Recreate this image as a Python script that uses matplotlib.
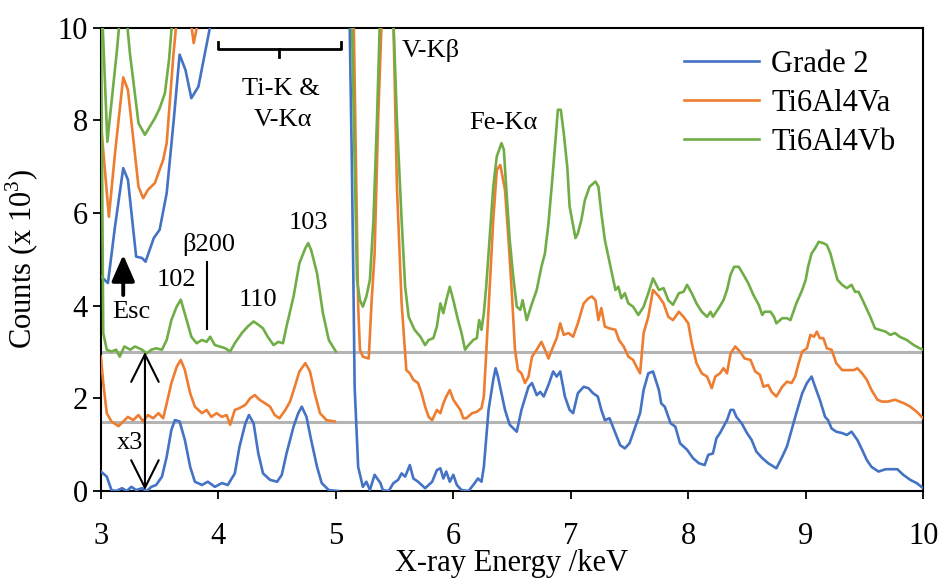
import matplotlib
matplotlib.use("Agg")
import matplotlib.pyplot as plt

plt.rcParams["font.family"] = ["Liberation Serif", "DejaVu Serif"]
plt.rcParams["mathtext.fontset"] = "custom"
plt.rcParams["mathtext.rm"] = "Liberation Serif"

# EDS spectra, 3-10 keV. Curves already carry their vertical offsets
# (Ti6Al4Va +1.5, Ti6Al4Vb +3); values above 10 run off the top.
G2_X = [3.00, 3.06, 3.12, 3.19, 3.23, 3.30, 3.35, 3.38, 3.45, 3.50, 3.56, 3.62, 3.67, 3.72, 3.77, 3.83, 3.93, 4.00, 4.50,
        5.05, 5.115, 5.135, 5.15, 5.16, 5.19, 5.23, 5.26, 5.29, 5.33, 5.38, 5.40, 5.45, 5.49, 5.53, 5.56, 5.59, 5.63,
        5.66, 5.70, 5.76, 5.82, 5.86, 5.89, 5.915, 5.94, 5.97, 6.00, 6.03, 6.07, 6.13, 6.17, 6.21, 6.24, 6.26, 6.30,
        6.34, 6.36, 6.38, 6.44, 6.48, 6.54, 6.58, 6.64, 6.67, 6.71, 6.74, 6.77, 6.81, 6.85, 6.88, 6.91, 6.95, 6.99,
        7.02, 7.06, 7.11, 7.15, 7.19, 7.23, 7.26, 7.29, 7.33, 7.38, 7.42, 7.46, 7.50, 7.55, 7.59, 7.62, 7.66, 7.70,
        7.75, 7.77, 7.80, 7.85, 7.89, 7.93, 7.99, 8.04, 8.09, 8.14, 8.17, 8.21, 8.24, 8.27, 8.30, 8.33, 8.36, 8.385,
        8.41, 8.455, 8.50, 8.54, 8.58, 8.63, 8.68, 8.75, 8.80, 8.84, 8.88, 8.92, 8.97, 9.01, 9.05, 9.08, 9.12, 9.165,
        9.19, 9.22, 9.26, 9.31, 9.35, 9.39, 9.44, 9.48, 9.52, 9.56, 9.62, 9.68, 9.78, 9.83, 9.89, 9.945, 10.0]
G2_Y = [4.63, 4.49, 5.71, 6.97, 6.72, 5.06, 5.03, 4.95, 5.46, 5.64, 6.43, 8.01, 9.42, 9.09, 8.48, 8.73, 10.03, 11.5, 40,
        25, 10.5, 7.29, 4.41, 2.25, 0.52, 0.09, 0.20, 0.02, 0.35, 0.17, 0.02, 0.0, 0.17, 0.24, 0.38, 0.31, 0.56,
        0.27, 0.20, 0.06, 0.20, 0.45, 0.49, 0.27, 0.42, 0.20, 0.35, 0.13, 0.02, 0.0, 0.13, 0.27, 0.20, 0.52, 1.75,
        2.40, 2.65, 2.47, 1.75, 1.43, 1.28, 1.75, 2.25, 2.33, 2.07, 2.14, 2.04, 2.29, 2.58, 2.47, 2.58, 2.04, 1.75,
        1.68, 2.11, 2.25, 2.22, 2.11, 2.04, 1.75, 1.53, 1.57, 1.25, 0.99, 0.92, 1.03, 1.39, 1.68, 2.18, 2.54, 2.58,
        2.18, 1.89, 1.82, 1.46, 1.39, 1.03, 0.89, 0.71, 0.60, 0.56, 0.78, 0.81, 1.14, 1.25, 1.39, 1.53, 1.75, 1.75,
        1.60, 1.46, 1.25, 1.10, 0.85, 0.71, 0.60, 0.49, 0.74, 0.96, 1.32, 1.68, 2.11, 2.33, 2.47, 2.25, 1.97, 1.60,
        1.53, 1.35, 1.28, 1.25, 1.21, 1.28, 1.10, 0.89, 0.67, 0.52, 0.42, 0.47, 0.47, 0.35, 0.24, 0.17, 0.06]

VA_X = [3.00, 3.068, 3.12, 3.19, 3.23, 3.32, 3.36, 3.40, 3.46, 3.53, 3.56, 3.616, 3.645, 3.72, 3.79, 3.83, 3.90, 4.50,
        5.10, 5.15, 5.19, 5.205, 5.23, 5.28, 5.305, 5.33, 5.36, 5.39, 5.44, 5.49, 5.52, 5.56, 5.60, 5.63, 5.66, 5.70,
        5.73, 5.76, 5.79, 5.82, 5.86, 5.89, 5.915, 5.94, 5.97, 6.00, 6.03, 6.06, 6.085, 6.11, 6.16, 6.20, 6.24, 6.26,
        6.28, 6.31, 6.34, 6.37, 6.40, 6.44, 6.47, 6.50, 6.525, 6.55, 6.58, 6.61, 6.64, 6.67, 6.71, 6.75, 6.78, 6.81,
        6.85, 6.88, 6.91, 6.94, 6.98, 7.02, 7.06, 7.11, 7.15, 7.18, 7.21, 7.235, 7.26, 7.29, 7.33, 7.38, 7.41, 7.45,
        7.49, 7.53, 7.56, 7.59, 7.62, 7.66, 7.70, 7.75, 7.79, 7.83, 7.87, 7.92, 7.96, 8.00, 8.03, 8.07, 8.115, 8.16,
        8.20, 8.23, 8.27, 8.30, 8.33, 8.36, 8.40, 8.44, 8.48, 8.53, 8.57, 8.61, 8.64, 8.68, 8.71, 8.75, 8.80, 8.84,
        8.88, 8.91, 8.94, 8.97, 9.01, 9.04, 9.07, 9.095, 9.12, 9.15, 9.18, 9.22, 9.26, 9.31, 9.35, 9.41, 9.44, 9.48,
        9.52, 9.56, 9.61, 9.65, 9.70, 9.76, 9.80, 9.84, 9.89, 9.945, 10.0]
VA_Y = [7.94, 5.92, 7.29, 8.93, 8.66, 6.57, 6.32, 6.50, 6.65, 7.15, 7.51, 9.38, 10.17, 11.0, 9.67, 10.17, 12.0, 45,
        30, 10.5, 4.0, 3.05, 2.90, 2.86, 4.12, 5.13, 8.01, 10.17, 25, 10.17, 6.57, 4.05, 2.61, 2.54, 2.40, 2.33,
        2.11, 1.82, 1.60, 1.53, 1.75, 1.68, 1.89, 2.04, 2.18, 1.97, 1.86, 1.75, 1.57, 1.57, 1.68, 1.71, 1.79, 2.04,
        2.97, 4.41, 5.85, 6.93, 7.04, 6.50, 5.42, 4.20, 3.05, 2.61, 2.54, 2.33, 2.47, 2.90, 3.05, 3.22, 3.05, 2.86,
        3.12, 3.30, 3.62, 3.37, 3.41, 3.33, 3.62, 4.05, 4.16, 4.20, 4.12, 3.69, 3.95, 3.55, 3.51, 3.48, 3.26, 3.12,
        2.90, 2.83, 2.68, 2.54, 3.41, 3.76, 4.34, 4.20, 4.05, 3.76, 3.69, 3.87, 3.76, 3.62, 3.19, 2.76, 2.54, 2.47,
        2.22, 2.47, 2.54, 2.65, 2.54, 2.97, 3.12, 3.01, 2.86, 2.83, 2.58, 2.51, 2.25, 2.29, 2.14, 2.04, 2.25, 2.36,
        2.33, 2.47, 2.76, 3.01, 3.08, 3.37, 3.33, 3.44, 3.30, 3.30, 3.08, 3.05, 2.76, 2.61, 2.61, 2.61, 2.65, 2.54,
        2.40, 2.18, 1.97, 1.93, 1.93, 1.97, 1.93, 1.89, 1.82, 1.71, 1.57]

VB_X = [3.00, 3.055, 3.134, 3.16, 3.19, 3.22, 3.247, 3.32, 3.375, 3.417, 3.46, 3.50, 3.545, 3.58, 3.607, 3.70, 4.50,
        5.05, 5.13, 5.18, 5.205, 5.23, 5.26, 5.29, 5.32, 5.35, 5.375, 5.43, 5.49, 5.52, 5.56, 5.59, 5.62, 5.645,
        5.67, 5.72, 5.76, 5.79, 5.83, 5.86, 5.89, 5.915, 5.94, 5.97, 6.00, 6.04, 6.07, 6.10, 6.13, 6.17, 6.20, 6.22,
        6.24, 6.26, 6.28, 6.31, 6.34, 6.37, 6.41, 6.43, 6.45, 6.48, 6.51, 6.54, 6.57, 6.59, 6.625, 6.67, 6.71, 6.75,
        6.78, 6.81, 6.84, 6.87, 6.89, 6.915, 6.94, 6.97, 6.99, 7.04, 7.06, 7.09, 7.12, 7.16, 7.21, 7.235, 7.26, 7.29,
        7.32, 7.35, 7.38, 7.405, 7.43, 7.46, 7.49, 7.53, 7.575, 7.62, 7.66, 7.70, 7.75, 7.79, 7.83, 7.87, 7.92, 7.96,
        7.99, 8.03, 8.07, 8.115, 8.16, 8.19, 8.21, 8.26, 8.30, 8.33, 8.36, 8.39, 8.43, 8.47, 8.51, 8.555, 8.60, 8.63,
        8.65, 8.70, 8.73, 8.75, 8.80, 8.84, 8.87, 8.90, 8.92, 8.97, 9.00, 9.02, 9.05, 9.08, 9.11, 9.15, 9.18, 9.21,
        9.24, 9.27, 9.31, 9.35, 9.39, 9.42, 9.45, 9.49, 9.55, 9.59, 9.63, 9.68, 9.72, 9.76, 9.80, 9.86, 9.92, 9.97,
        10.0]
VB_Y = [11.0, 7.54, 9.45, 10.17, 10.8, 10.17, 9.45, 7.94, 7.69, 7.87, 8.05, 8.26, 8.59, 9.31, 10.17, 13.0, 50,
        30, 11.0, 4.56, 4.12, 3.98, 4.20, 4.56, 5.85, 8.01, 10.17, 25, 10.17, 8.01, 5.85, 4.41, 3.76, 3.62,
        3.48, 3.33, 3.15, 3.26, 3.30, 3.55, 4.05, 3.84, 4.12, 4.41, 4.12, 3.69, 3.41, 3.05, 3.15, 3.26, 3.30, 3.69,
        3.48, 3.84, 4.41, 5.49, 6.57, 7.22, 7.51, 7.37, 6.57, 5.42, 4.63, 3.98, 3.91, 4.12, 3.69, 4.05, 4.34, 4.84,
        5.13, 5.78, 6.65, 7.58, 8.23, 8.23, 7.73, 7.00, 6.14, 5.46, 5.56, 5.85, 6.28, 6.57, 6.68, 6.57, 6.00, 5.42,
        5.06, 4.70, 4.34, 4.41, 4.16, 4.27, 4.05, 3.98, 3.80, 3.98, 4.27, 4.59, 4.34, 4.38, 4.12, 4.02, 4.27, 4.30,
        4.45, 4.27, 4.05, 3.87, 3.76, 3.87, 3.76, 3.95, 4.12, 4.34, 4.67, 4.84, 4.84, 4.67, 4.49, 4.23, 4.02, 3.80,
        3.87, 3.87, 3.76, 3.62, 3.73, 3.73, 3.69, 3.91, 4.05, 4.34, 4.56, 4.84, 5.13, 5.24, 5.38, 5.35, 5.31, 5.13,
        4.84, 4.56, 4.45, 4.38, 4.45, 4.30, 4.30, 4.09, 3.76, 3.51, 3.48, 3.44, 3.37, 3.41, 3.33, 3.26, 3.15, 3.08,
        3.05]

# x3 magnified 3-5 keV region, drawn on the same offsets
G2_IN_X = [3.00, 3.05, 3.09, 3.13, 3.18, 3.22, 3.26, 3.30, 3.35, 3.39, 3.43, 3.47, 3.52, 3.56, 3.60, 3.63, 3.67,
           3.715, 3.76, 3.80, 3.86, 3.91, 3.97, 4.03, 4.08, 4.14, 4.18, 4.23, 4.26, 4.30, 4.34, 4.38, 4.44, 4.50,
           4.54, 4.58, 4.64, 4.68, 4.71, 4.75, 4.79, 4.84, 4.88, 4.94, 5.02]
G2_IN_Y = [0.42, 0.31, 0.02, 0.0, 0.06, 0.0, 0.09, 0.02, 0.06, 0.0, 0.09, 0.13, 0.31, 0.74, 1.32, 1.53, 1.50,
           1.10, 0.52, 0.20, 0.13, 0.20, 0.09, 0.17, 0.13, 0.38, 0.96, 1.46, 1.64, 1.46, 0.81, 0.38, 0.24, 0.20,
           0.35, 0.81, 1.39, 1.68, 1.82, 1.60, 1.10, 0.52, 0.17, 0.02, 0.0]

VA_IN_X = [3.00, 3.02, 3.05, 3.09, 3.15, 3.19, 3.23, 3.275, 3.32, 3.36, 3.40, 3.445, 3.49, 3.53, 3.56, 3.60, 3.645,
           3.68, 3.715, 3.76, 3.80, 3.86, 3.90, 3.94, 3.985, 4.03, 4.07, 4.10, 4.14, 4.18, 4.23, 4.27, 4.31, 4.35,
           4.40, 4.44, 4.48, 4.52, 4.57, 4.61, 4.65, 4.69, 4.74, 4.78, 4.82, 4.865, 4.92, 4.99]
VA_IN_Y = [2.90, 2.33, 1.68, 1.50, 1.40, 1.50, 1.60, 1.53, 1.64, 1.50, 1.64, 1.57, 1.68, 1.57, 1.89, 2.33, 2.68,
           2.83, 2.61, 2.11, 1.82, 1.68, 1.75, 1.60, 1.68, 1.60, 1.64, 1.43, 1.75, 1.79, 1.86, 2.00, 2.07, 1.97,
           1.89, 1.82, 1.64, 1.57, 1.75, 1.93, 2.25, 2.58, 2.76, 2.58, 2.11, 1.68, 1.53, 1.50]

VB_IN_X = [3.00, 3.02, 3.05, 3.09, 3.13, 3.16, 3.20, 3.25, 3.29, 3.35, 3.39, 3.43, 3.47, 3.52, 3.56, 3.60, 3.645,
           3.68, 3.73, 3.77, 3.815, 3.86, 3.90, 3.93, 3.97, 4.01, 4.06, 4.10, 4.14, 4.20, 4.25, 4.30, 4.34, 4.38,
           4.42, 4.47, 4.51, 4.55, 4.58, 4.64, 4.69, 4.74, 4.765, 4.79, 4.84, 4.89, 4.94, 5.00]
VB_IN_Y = [10.5, 3.41, 3.05, 3.01, 3.05, 2.90, 3.12, 3.05, 3.12, 3.05, 2.97, 3.05, 3.08, 3.05, 3.26, 3.69, 3.98,
           4.13, 3.69, 3.33, 3.19, 3.26, 3.22, 3.33, 3.15, 3.12, 3.08, 3.01, 3.19, 3.41, 3.55, 3.66, 3.59, 3.51,
           3.33, 3.15, 3.22, 3.19, 3.55, 4.20, 4.92, 5.24, 5.35, 5.20, 4.70, 3.84, 3.26, 3.01]

BASELINES = [1.5, 3.0]
LABELS = ["Grade 2", "Ti6Al4Va", "Ti6Al4Vb"]
COLORS = ["#4472C4", "#ED7D31", "#70AD47"]

fig = plt.figure(figsize=(9.43, 5.79), dpi=100)
ax = fig.add_axes([0.107, 0.152, 0.872, 0.8])

for b in BASELINES:
    ax.axhline(b, color="#b4b4b4", lw=2.2, zorder=1)

series = [(G2_X, G2_Y, G2_IN_X, G2_IN_Y), (VA_X, VA_Y, VA_IN_X, VA_IN_Y), (VB_X, VB_Y, VB_IN_X, VB_IN_Y)]
for (mx, my, ix, iy), lab, c in zip(series, LABELS, COLORS):
    ax.plot(mx, my, color=c, lw=1.9, label=lab, zorder=3)
    ax.plot(ix, iy, color=c, lw=1.9, zorder=3)

ax.set_xlim(3, 10)
ax.set_ylim(0, 10)
ax.set_xticks(range(3, 11))
ax.set_yticks(range(0, 11, 2))
ax.tick_params(labelsize=22, width=1.3, length=6, direction="out")
ax.tick_params(axis="x", pad=16)
for s in ax.spines.values():
    s.set_linewidth(1.5)
ax.set_xlabel("X-ray Energy /keV", fontsize=22, labelpad=-1)
ax.set_ylabel("Counts (x 10$^{3}$)", fontsize=22, labelpad=12)

ax.legend(loc="upper right", frameon=False, fontsize=22, handlelength=2.45, handletextpad=0.4,
          labelspacing=0.32, borderaxespad=0.1, bbox_to_anchor=(0.985, 0.985))

# annotations
fs = 19
ax.plot([4.0, 4.0, 5.04, 5.04], [9.7, 9.55, 9.55, 9.7], color="k", lw=2)
ax.plot([4.52, 4.52], [9.55, 9.38], color="k", lw=2)
ax.text(4.53, 8.68, "Ti-K &", fontsize=fs, ha="center", va="center")
ax.text(4.55, 8.02, "V-Kα", fontsize=fs, ha="center", va="center")
ax.text(5.56, 9.52, "V-Kβ", fontsize=fs, ha="left", va="center")
ax.text(6.43, 7.95, "Fe-Kα", fontsize=fs, ha="center", va="center")
ax.text(3.92, 5.33, "β200", fontsize=fs, ha="center", va="center")
ax.plot([3.90, 3.90], [4.95, 3.49], color="k", lw=1.5)
ax.text(3.64, 4.56, "102", fontsize=fs, ha="center", va="center")
ax.text(4.34, 4.13, "110", fontsize=fs, ha="center", va="center")
ax.text(4.77, 5.79, "103", fontsize=fs, ha="center", va="center")
ax.text(3.26, 3.87, "Esc", fontsize=fs, ha="center", va="center")
ax.annotate("", xy=(3.19, 5.1), xytext=(3.19, 4.23),
            arrowprops=dict(arrowstyle="-|>,head_length=0.8,head_width=0.35", lw=2.8, color="k",
                            mutation_scale=20, shrinkA=0, shrinkB=0))
ax.annotate("", xy=(3.375, 3.0), xytext=(3.375, 0.02),
            arrowprops=dict(arrowstyle="<->,head_length=0.9,head_width=0.45", lw=1.5, color="k",
                            mutation_scale=22, shrinkA=0, shrinkB=0))
ax.text(3.25, 1.04, "x3", fontsize=fs, ha="center", va="center")

fig.savefig("out.png", dpi=100)
